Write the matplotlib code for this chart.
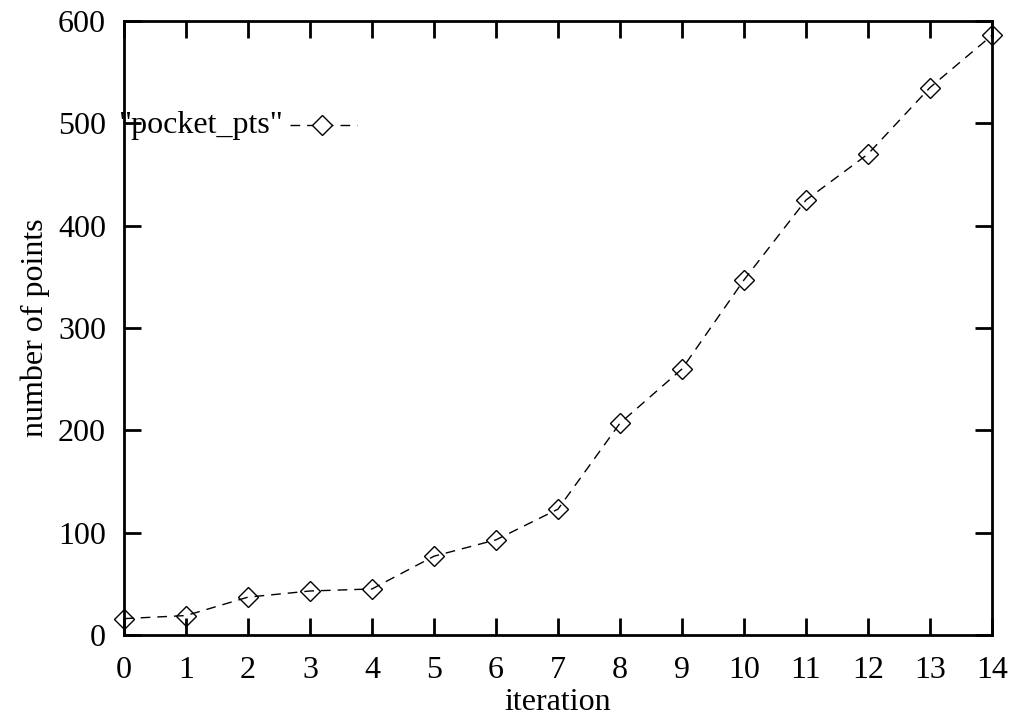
import matplotlib
matplotlib.use("Agg")
import matplotlib.pyplot as plt

iterations = list(range(15))
pocket_pts = [16, 19, 37, 43, 45, 77, 93, 123, 207, 260, 347, 425, 470, 535, 586]
xticks = list(range(15))
yticks = [0, 100, 200, 300, 400, 500, 600]

plt.rcParams['font.family'] = ['Liberation Serif', 'DejaVu Serif']
FS = 23

fig = plt.figure(figsize=(10.13, 7.17), dpi=100)
ax = fig.add_axes([124/1013, 1-635/717, (992-124)/1013, (635-21)/717])

ax.plot(iterations, pocket_pts, color='black', linewidth=1, dashes=(7, 5),
        marker='D', markersize=10, markerfacecolor='none', markeredgecolor='black',
        markeredgewidth=1, clip_on=False, zorder=3)

ax.set_xlim(0, 14)
ax.set_ylim(0, 600)
ax.set_xticks(xticks)
ax.set_yticks(yticks)
for s in ax.spines.values():
    s.set_linewidth(2)
ax.tick_params(direction='in', length=12, width=2, top=True, right=True,
               labelsize=FS)
ax.tick_params(axis='y', pad=13)
ax.tick_params(axis='x', pad=15)
ax.set_xlabel('iteration', fontsize=FS, labelpad=2)
ax.set_ylabel('number of points', fontsize=FS, labelpad=6)

# legend (gnuplot style: text then sample)
fig.text(283/1013, 1-125/717, '"pocket_pts"',
         ha='right', va='center', fontsize=FS, zorder=4)
ax.plot([290/1013, 357/1013], [1-125/717, 1-125/717], transform=fig.transFigure,
        color='black', linewidth=1, dashes=(7, 5), clip_on=False)
ax.plot([322/1013], [1-125/717], transform=fig.transFigure, marker='D',
        markersize=10, markerfacecolor='white', markeredgecolor='black',
        markeredgewidth=1, clip_on=False, linestyle='none')

fig.savefig('out.png', dpi=100)
